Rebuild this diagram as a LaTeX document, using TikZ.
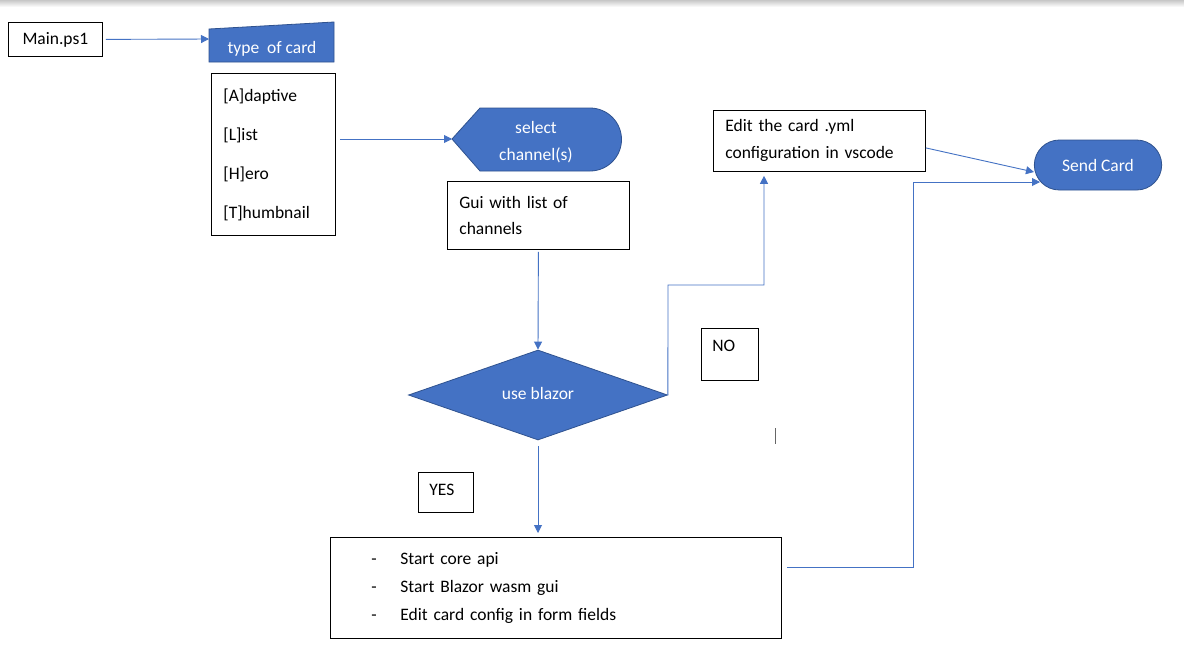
\documentclass[tikz,border=0pt]{standalone}
\usepackage{fontspec}
\setmainfont{Carlito}
\usetikzlibrary{arrows.meta,calc,shapes.geometric,shapes.misc}
\definecolor{card_blue}{HTML}{4472C4}
\definecolor{card_edge}{HTML}{2F528F}

\begin{document}
\begin{tikzpicture}[x=1pt,y=-1pt,>={Triangle[length=8pt,width=8pt]},
    every node/.style={font=\fontsize{17.5}{26}\selectfont},
    box/.style={draw,line width=0.8pt,anchor=north west,inner ysep=0pt,align=left},
    tag/.style={draw,line width=0.8pt,anchor=north west,inner ysep=0pt,inner xsep=11pt,align=left,text height=23pt},
    blue_shape/.style={fill=card_blue,draw=card_edge,line width=0.8pt},
    flow/.style={->,draw=card_blue,line width=0.9pt}]
  \fill[white] (0,0) rectangle (1184,657);
  \shade[top color=black!22,bottom color=white] (0,0) rectangle (1184,7);
  \useasboundingbox (0,0) rectangle (1184,657);

  \node[box,align=center,inner xsep=0pt,text width=94pt,minimum height=34pt] (main) at (8,22) {Main.ps1};

  \coordinate (type_in) at (209,39);
  \filldraw[blue_shape] (209,29) -- (334,22) -- (334,62) -- (209,62) -- cycle;
  \node[text=white] (type) at (272,49) {type~ of card};

  \node[box,font=\fontsize{17.5}{39}\selectfont,inner xsep=12pt,text width=100pt,minimum height=162pt] (opts) at (211,73) {[A]daptive\\{[L]}ist\\{[H]}ero\\{[T]}humbnail};

  \coordinate (sel_tip) at (452,139);
  \filldraw[blue_shape] (sel_tip) -- (480,108) -- (590,108) arc[start angle=-90,end angle=90,radius=31.5] -- (480,171) -- cycle;
  \node[text=white,align=center,font=\fontsize{17.5}{27}\selectfont] (sel) at (536,142) {select\\channel(s)};

  \node[box,inner xsep=12pt,text width=158pt,minimum height=68pt] (gui) at (447,181) {Gui with list of\\channels};

  \node[diamond,blue_shape,text=white,inner sep=0pt,minimum width=259pt,minimum height=90pt] (blazor) at (538,395) {\raisebox{3pt}{use blazor}};

  \node[box,font=\fontsize{17.5}{27}\selectfont,inner xsep=12pt,text width=188pt,minimum height=61pt] (edit) at (713,110) {Edit the card .yml\\configuration in vscode};

  \node[rounded rectangle,blue_shape,text=white,minimum width=134pt,minimum height=50pt] (send) at (1098,165) {Send Card};

  \node[box,font=\fontsize{17.5}{28}\selectfont,inner xsep=41pt,text width=369pt,minimum height=101pt] (steps) at (330,537) {\makebox[29pt][l]{-}Start core api\\\makebox[29pt][l]{-}Start Blazor wasm gui\\\makebox[29pt][l]{-}Edit card config in form fields};

  \node[tag,text width=35pt,text depth=29pt] (no) at (701,328) {NO};
  \node[tag,text width=33pt,text depth=17pt] (yes) at (418,472) {YES};
  \draw[line width=0.8pt,black!60] (775,428) -- (775,444);

  \draw[flow,shorten <=3pt] (main.east) -- (type_in);
  \draw[flow] ($(opts.east |- sel_tip)+(4,0)$) -- (sel_tip);
  \draw[flow,shorten <=2pt] (gui.south) -- (blazor.north);
  \coordinate (no_bend) at (668,285);
  \coordinate (edit_in) at ($(edit.south west)+(51,0)$);
  \draw[flow,shorten >=4pt] (blazor.east) -- (no_bend) -| (edit_in);
  \draw[flow,shorten <=6pt,shorten >=4pt] (blazor.south) -- (blazor.south |- steps.north);
  \coordinate (send_hi) at (1034,172);
  \draw[flow] ($(edit.east)+(0,7)$) -- (send_hi);
  \coordinate (steps_out) at (787,567);
  \coordinate (send_lo) at (1040,182);
  \draw[flow] (steps_out) -| ($(send_lo)+(-127,0)$) -- (send_lo);
\end{tikzpicture}
\end{document}
